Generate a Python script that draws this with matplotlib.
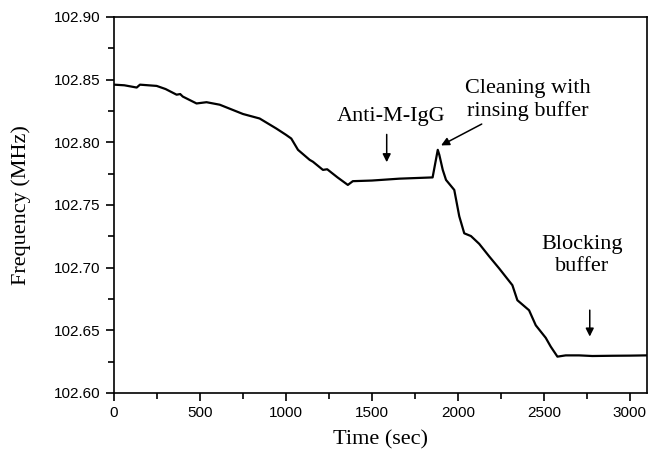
import matplotlib
matplotlib.use("Agg")
import matplotlib.pyplot as plt
from matplotlib.ticker import MultipleLocator, FormatStrFormatter

# frequency trace
time_s = [0, 60, 132, 151, 248, 300, 364, 385, 400, 480, 538, 615, 750, 847,
          944, 1000, 1031, 1070, 1138, 1157, 1215, 1240, 1263, 1300, 1360,
          1389, 1500, 1660, 1853, 1883, 1892, 1912, 1931, 1979, 2008, 2037,
          2076, 2124, 2182, 2240, 2317, 2346, 2414, 2453, 2511, 2540, 2579,
          2627, 2705, 2782, 2900, 3000, 3095]
freq_mhz = [102.846, 102.8455, 102.8437, 102.846, 102.845, 102.8425, 102.838,
            102.8385, 102.8365, 102.831, 102.832, 102.830, 102.8226, 102.819,
            102.811, 102.806, 102.803, 102.794, 102.786, 102.7845, 102.778,
            102.7785, 102.776, 102.772, 102.766, 102.769, 102.7695, 102.771,
            102.772, 102.794, 102.790, 102.778, 102.770, 102.762, 102.741,
            102.7274, 102.7252, 102.7190, 102.709, 102.6994, 102.686, 102.674,
            102.666, 102.654, 102.644, 102.637, 102.629, 102.630, 102.630,
            102.6295, 102.6297, 102.6298, 102.630]

plt.rcParams["font.family"] = ["Liberation Serif", "DejaVu Serif"]

fig = plt.figure(figsize=(6.5, 4.54), dpi=100)
ax = fig.add_axes([0.1754, 0.1344, 0.82, 0.8282])

ax.plot(time_s, freq_mhz, color="black", lw=1.6)

ax.set_xlim(0, 3100)
ax.set_ylim(102.60, 102.90)
ax.xaxis.set_major_locator(MultipleLocator(500))
ax.xaxis.set_minor_locator(MultipleLocator(250))
ax.yaxis.set_major_locator(MultipleLocator(0.05))
ax.yaxis.set_minor_locator(MultipleLocator(0.025))
ax.yaxis.set_major_formatter(FormatStrFormatter("%.2f"))
ax.tick_params(which="major", direction="out", length=6, width=1.2,
               labelsize=11, top=False, right=False)
ax.tick_params(which="minor", direction="out", length=4, width=1.2,
               top=False, right=False)
for lbl in ax.get_xticklabels() + ax.get_yticklabels():
    lbl.set_family("Liberation Sans")
for sp in ax.spines.values():
    sp.set_linewidth(1.2)

ax.set_xlabel("Time (sec)", fontsize=16, labelpad=7)
ax.set_ylabel("Frequency (MHz)", fontsize=16, labelpad=17)

arrow = dict(arrowstyle="-|>", color="black", lw=1.1, mutation_scale=12)
ax.text(1613, 102.8204, "Anti-M-IgG", fontsize=16, ha="center", va="center")
ax.annotate("", xy=(1586, 102.7819), xytext=(1586, 102.8085), arrowprops=arrow)

ax.text(2409, 102.8338, "Cleaning with\nrinsing buffer", fontsize=16,
        ha="center", va="center", linespacing=1.2)
ax.annotate("", xy=(1888, 102.7965), xytext=(2153, 102.8156), arrowprops=arrow)

ax.text(2722, 102.710, "Blocking\nbuffer", fontsize=16, ha="center",
        va="center", linespacing=1.2)
ax.annotate("", xy=(2767, 102.6428), xytext=(2767, 102.6683), arrowprops=arrow)

fig.savefig("out.png", dpi=100)
